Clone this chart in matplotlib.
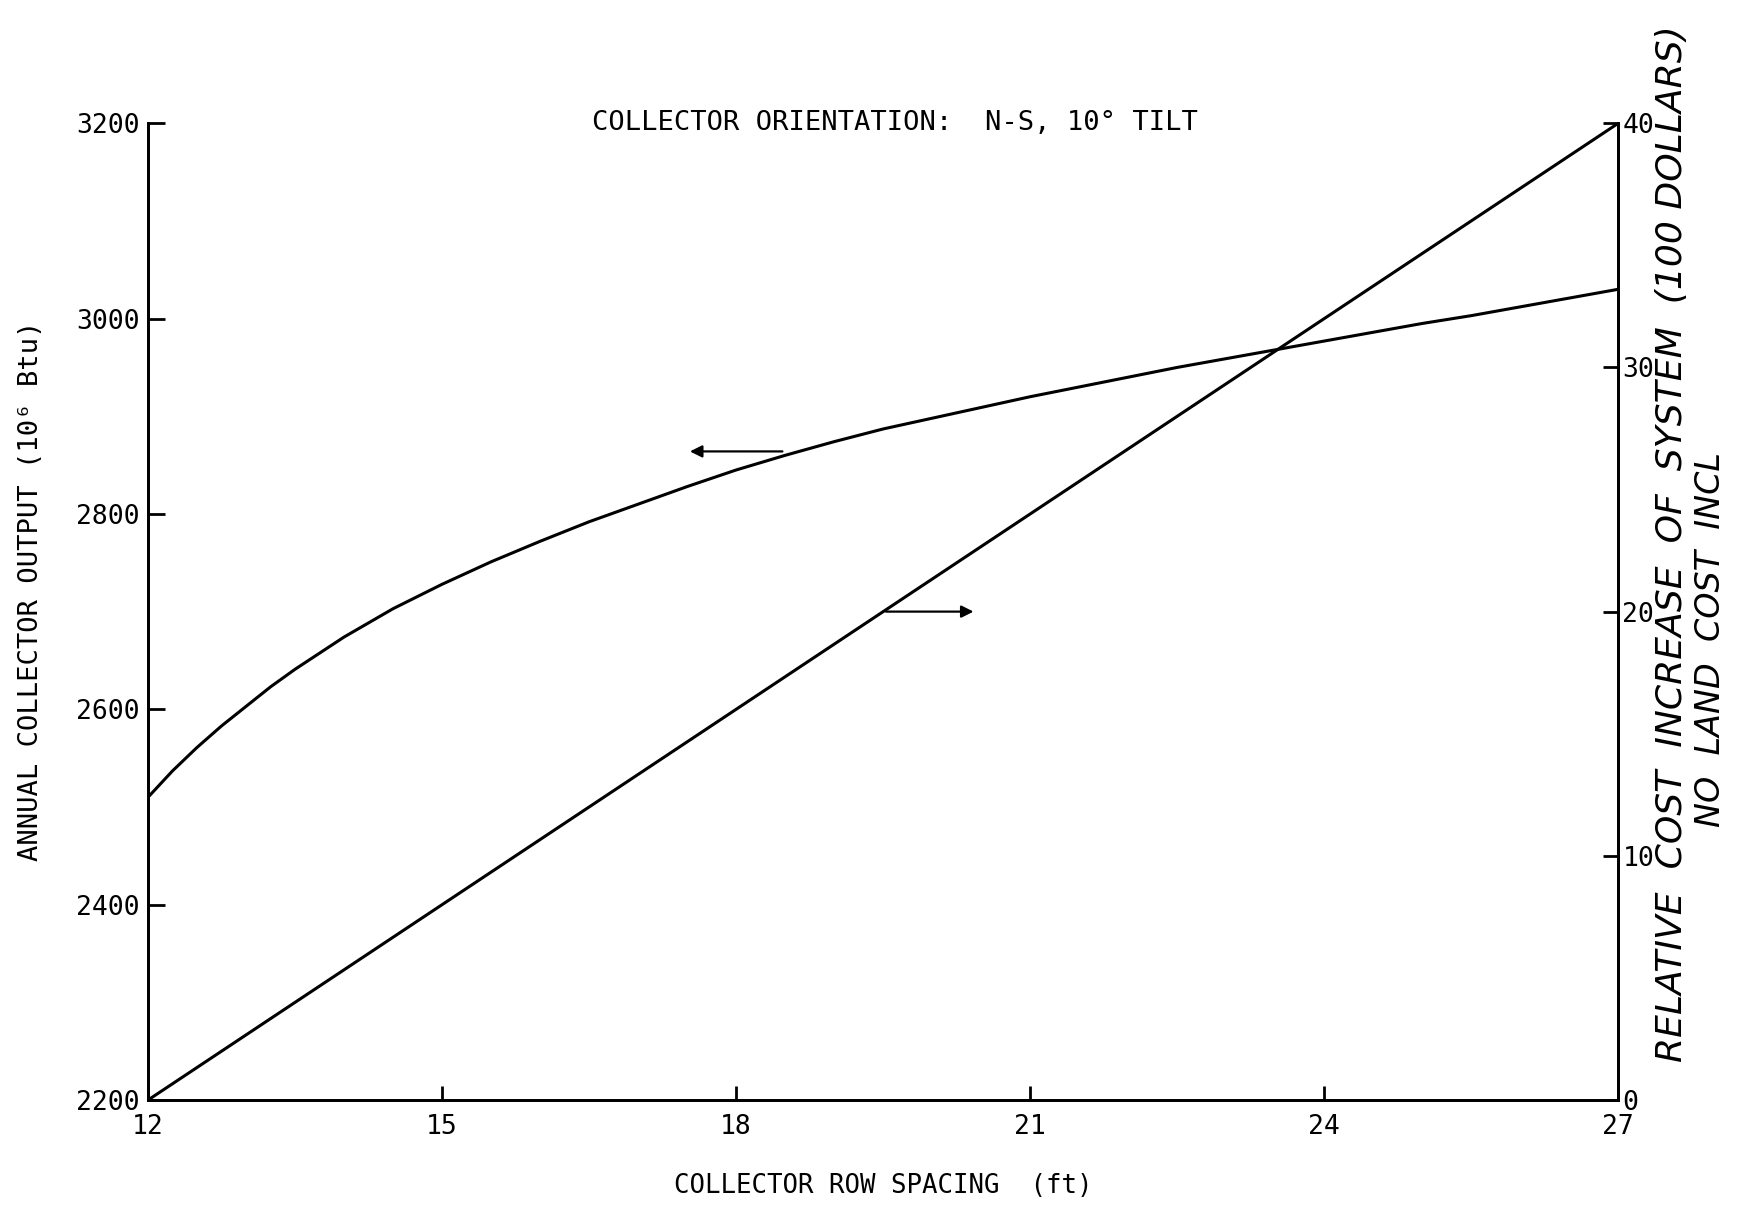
import numpy as np
import matplotlib.pyplot as plt

plt.rcParams['font.family'] = ['DejaVu Sans Mono', 'DejaVu Sans']

# collector row spacing (ft)
spacing = [12, 12.25, 12.5, 12.75, 13, 13.25, 13.5, 14, 14.5, 15, 15.5, 16, 16.5,
           17, 17.5, 18, 18.5, 19, 19.5, 20, 20.5, 21, 21.5, 22, 22.5, 23, 23.5,
           24, 24.5, 25, 25.5, 26, 26.5, 27]
# annual collector output (10^6 Btu)
output = [2510, 2537, 2561, 2583, 2603, 2623, 2641, 2674, 2703, 2728, 2751, 2772,
          2792, 2810, 2828, 2845, 2860, 2874, 2887, 2898, 2909, 2920, 2930, 2940,
          2950, 2959, 2968, 2977, 2986, 2995, 3003, 3012, 3021, 3030]

# relative cost increase (100 dollars)
cost_x = [12, 15, 18, 21, 24, 27]
cost = [0, 8, 16, 24, 32, 40]

xticks = [12, 15, 18, 21, 24, 27]
yticks_left = [2200, 2400, 2600, 2800, 3000, 3200]
yticks_right = [0, 10, 20, 30, 40]

fig = plt.figure(figsize=(17.42, 12.08), dpi=100)
ax = fig.add_axes([0.085, 0.0894, 0.844, 0.8086])
ax2 = ax.twinx()

ax.plot(spacing, output, color='black', lw=2.2)
ax2.plot(cost_x, cost, color='black', lw=2.2)

ax.set_xlim(12, 27)
ax.set_ylim(2200, 3200)
ax2.set_ylim(0, 40)

ax.set_xticks(xticks)
ax.set_yticks(yticks_left)
ax2.set_yticks(yticks_right)

ax.tick_params(axis='x', direction='in', length=10, width=2, pad=10, labelsize=19)
ax.tick_params(axis='y', direction='in', length=12, width=2, pad=6, labelsize=19)
ax2.tick_params(axis='y', direction='in', length=11, width=2, pad=3, labelsize=19)

for a in (ax, ax2):
    a.spines['top'].set_visible(False)
    for s in ('left', 'right', 'bottom'):
        a.spines[s].set_linewidth(2)

# arrows pointing to the matching axis
ax.annotate('', xy=(17.5, 2864), xytext=(18.5, 2864),
            arrowprops=dict(arrowstyle='-|>', color='black', lw=1.6, mutation_scale=18))
ax2.annotate('', xy=(20.45, 20), xytext=(19.5, 20),
             arrowprops=dict(arrowstyle='-|>', color='black', lw=1.6, mutation_scale=18))

ax.text(0.508, 1.0, 'COLLECTOR ORIENTATION:  N-S, 10° TILT', transform=ax.transAxes,
        ha='center', va='center', fontsize=19.5)

ax.set_xlabel('COLLECTOR ROW SPACING  (ft)', fontsize=18.5, labelpad=24)
ax.set_ylabel('ANNUAL COLLECTOR OUTPUT (10⁶ Btu)', fontsize=19.5)
ax.yaxis.set_label_coords(-0.071, 0.521)

fig.text(0.96, 0.55, 'RELATIVE  COST  INCREASE  OF  SYSTEM  (100 DOLLARS)',
         rotation=90, ha='center', va='center', fontsize=26, style='italic',
         family=['DejaVu Sans'])
fig.text(0.982, 0.471, 'NO  LAND  COST  INCL', rotation=90, ha='center', va='center',
         fontsize=24, style='italic', family=['DejaVu Sans'])

fig.savefig('out.png', dpi=100)
